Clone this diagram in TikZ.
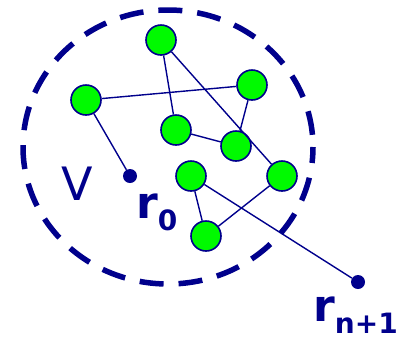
\documentclass[tikz,border=0pt]{standalone}
\usepackage{fontspec}
\setmainfont{DejaVu Sans}
\usepackage{tikz}
\usetikzlibrary{positioning, calc}
\definecolor{navyline}{RGB}{0,0,140}
\definecolor{limefill}{RGB}{0,250,0}
\tikzset{
    node_green/.style={
        circle, draw=navyline, line width=1.6pt, fill=limefill,
        minimum size=30pt, inner sep=0pt
    },
    node_end/.style={
        circle, fill=navyline, minimum size=14pt, inner sep=0pt
    },
    graph_edge/.style={
        draw=navyline, line width=1.4pt
    },
    region_border/.style={
        draw=navyline, line width=5.5pt, dash pattern=on 24pt off 15pt, dash phase=8pt
    },
    lbl_big/.style={
        text=navyline, inner sep=0pt, font=\fontsize{46}{46}\selectfont
    },
    lbl_r/.style={
        text=navyline, inner sep=0pt, anchor=base west,
        font=\fontsize{44}{44}\selectfont\bfseries
    }
}
\newcommand{\lowsub}[1]{\raisebox{-0.28em}[\height][0pt]{\fontsize{28}{28}\selectfont\bfseries #1}}

\begin{document}
\begin{tikzpicture}[x=1pt, y=-1pt]
    \useasboundingbox (0,0) rectangle (401,341);

    % --- Region V ---
    \draw[region_border] (168,147) ellipse [x radius=145, y radius=137];
    \node[lbl_big] (vlabel) at (77,184) {V};

    % --- Graph nodes ---
    \node[node_green] (top)    at (161,40)  {};
    \node[node_green] (left)   at (86,100)  {};
    \node[node_green] (right)  at (252,85)  {};
    \node[node_green] (mid)    at (176,130) {};
    \node[node_green] (center) at (236,146) {};
    \node[node_green] (lower)  at (191,176) {};
    \node[node_green] (east)   at (282,176) {};
    \node[node_green] (bottom) at (206,236) {};

    % --- End points ---
    \node[node_end] (rzero) at (130,176) {};
    \node[node_end] (rlast) at (358,282) {};
    \node[lbl_r] (rzerolbl) at (136,218) {r\lowsub{0}};
    \node[lbl_r] (rlastlbl) at (313,321) {r\lowsub{n+1}};

    % --- Edges ---
    \draw[graph_edge] (left) -- (right);
    \draw[graph_edge] (top) -- (mid);
    \draw[graph_edge] (top) -- (east);
    \draw[graph_edge] (right) -- (center);
    \draw[graph_edge] (mid) -- (center);
    \draw[graph_edge] (left) -- (rzero);
    \draw[graph_edge] (lower) -- (bottom);
    \draw[graph_edge] (east) -- (bottom);
    \draw[graph_edge] (lower) -- (rlast);

\end{tikzpicture}
\end{document}
